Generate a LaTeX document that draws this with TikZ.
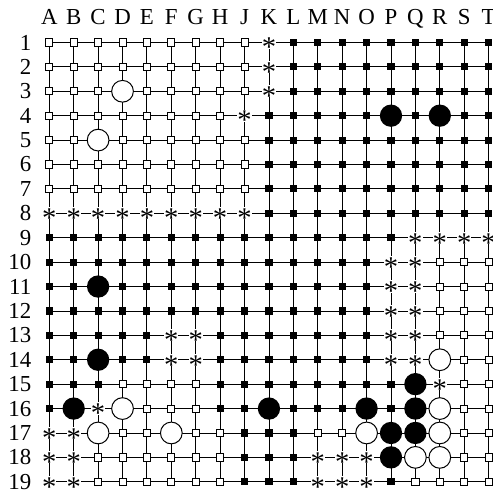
\documentclass[tikz,border=0pt]{standalone}
\usepackage{fontspec}
\setmainfont{Liberation Serif}
\usetikzlibrary{positioning}

\begin{document}
\begin{tikzpicture}[x=0.6cm, y=0.6cm, font=\fontsize{16}{19}\selectfont,
    mw/.style={draw, fill=white, line width=0.6pt, inner sep=0pt, minimum size=5pt},
    mb/.style={fill=black, inner sep=0pt, minimum size=5pt},
    md/.style={fill=white, inner sep=0pt, minimum width=9.5pt, minimum height=8.5pt,
      execute at begin node={\fontsize{20}{20}\selectfont\raisebox{-0.5em}[0pt][0pt]{*}}},
    mW/.style={circle, draw, fill=white, line width=0.7pt, inner sep=0pt, minimum size=15.2pt},
    mB/.style={circle, fill=black, inner sep=0pt, minimum size=15.6pt},
    collabel/.style={anchor=base, inner sep=0pt},
    rowlabel/.style={anchor=east, inner sep=0pt}]
  \useasboundingbox (-2.02,1.74) rectangle (18.18,-18.33);
  % board lines
  \foreach \i in {0,...,18} {
    \draw[line width=0.6pt] (\i,0) -- (\i,-18);
    \draw[line width=0.6pt] (0,-\i) -- (18,-\i);
  }
  % coordinates
  \foreach \l [count=\c from 0] in {A,B,C,D,E,F,G,H,J,K,L,M,N,O,P,Q,R,S,T}
    \node[collabel] (col-\l) at (\c,0.72) {\l};
  \foreach \r in {1,...,19}
    \node[rowlabel] (row-\r) at (-0.73,1-\r) {\r};
  % w/b = territory, d = dame, W/B = stones
  \foreach \r/\marks in {
    1/{w,w,w,w,w,w,w,w,w,d,b,b,b,b,b,b,b,b,b},
    2/{w,w,w,w,w,w,w,w,w,d,b,b,b,b,b,b,b,b,b},
    3/{w,w,w,W,w,w,w,w,w,d,b,b,b,b,b,b,b,b,b},
    4/{w,w,w,w,w,w,w,w,d,b,b,b,b,b,B,b,B,b,b},
    5/{w,w,W,w,w,w,w,w,w,b,b,b,b,b,b,b,b,b,b},
    6/{w,w,w,w,w,w,w,w,w,b,b,b,b,b,b,b,b,b,b},
    7/{w,w,w,w,w,w,w,w,w,b,b,b,b,b,b,b,b,b,b},
    8/{d,d,d,d,d,d,d,d,d,b,b,b,b,b,b,b,b,b,b},
    9/{b,b,b,b,b,b,b,b,b,b,b,b,b,b,b,d,d,d,d},
    10/{b,b,b,b,b,b,b,b,b,b,b,b,b,b,d,d,w,w,w},
    11/{b,b,B,b,b,b,b,b,b,b,b,b,b,b,d,d,w,w,w},
    12/{b,b,b,b,b,b,b,b,b,b,b,b,b,b,d,d,w,w,w},
    13/{b,b,b,b,b,d,d,b,b,b,b,b,b,b,d,d,w,w,w},
    14/{b,b,B,b,b,d,d,b,b,b,b,b,b,b,d,d,W,w,w},
    15/{b,b,b,w,w,w,w,b,b,b,b,b,b,b,b,B,d,w,w},
    16/{b,B,d,W,w,w,w,b,b,B,b,b,b,B,b,B,W,w,w},
    17/{d,d,W,w,w,W,w,w,b,b,b,w,w,W,B,B,W,w,w},
    18/{d,d,w,w,w,w,w,w,b,b,b,d,d,d,B,W,W,w,w},
    19/{d,d,w,w,w,w,w,w,b,b,b,d,d,d,b,w,w,w,w}}{
    \foreach \t [count=\c from 0] in \marks
      \node[style=m\t] (pt-\c-\r) at (\c,1-\r) {};
  }
\end{tikzpicture}
\end{document}
